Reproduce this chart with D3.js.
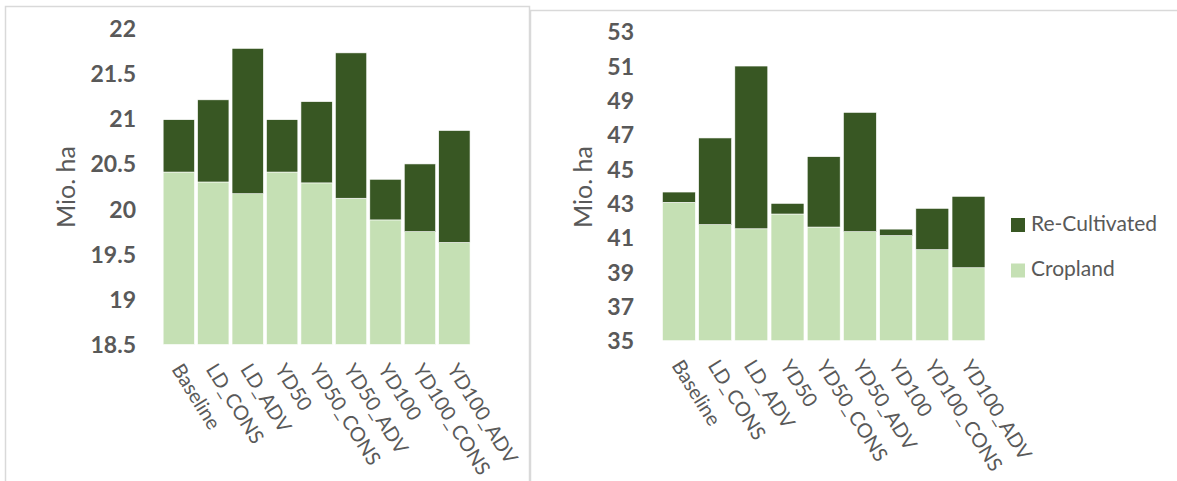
<!DOCTYPE html>
<html>
<head>
<meta charset="utf-8">
<script src="https://cdn.jsdelivr.net/npm/d3@7"></script>
<style>
  html, body { margin: 0; padding: 0; background: #fff; overflow: hidden; }
  svg { display: block; }
  text { font-family: Lato, "Open Sans", sans-serif; }
</style>
</head>
<body>
<svg id="chart" width="1177" height="481"></svg>
<script>
// ---- data ----
const categories = ["Baseline", "LD_CONS", "LD_ADV", "YD50", "YD50_CONS", "YD50_ADV", "YD100", "YD100_CONS", "YD100_ADV"];
const seriesNames = ["Cropland", "Re-Cultivated"];

const croplandLeft = [20.41, 20.30, 20.17, 20.41, 20.29, 20.12, 19.88, 19.75, 19.63];
const reCultivatedLeft = [0.58, 0.91, 1.61, 0.58, 0.90, 1.61, 0.45, 0.75, 1.24];

const croplandRight = [43.06, 41.76, 41.52, 42.38, 41.62, 41.35, 41.12, 40.30, 39.25];
const reCultivatedRight = [0.60, 5.05, 9.48, 0.62, 4.10, 6.95, 0.38, 2.41, 4.16];

const ticksLeft = [18.5, 19, 19.5, 20, 20.5, 21, 21.5, 22];
const ticksRight = [35, 37, 39, 41, 43, 45, 47, 49, 51, 53];

const axisTitle = "Mio. ha";

// ---- styles ----
const colors = { "Cropland": "#C5E0B4", "Re-Cultivated": "#385723" };
const textColor = "#595959";
const borderColor = "#d9d9d9";

const svg = d3.select("#chart");

// panel borders
svg.append("rect").attr("x", 5.5).attr("y", 6.5).attr("width", 524).attr("height", 520)
  .attr("fill", "none").attr("stroke", borderColor).attr("stroke-width", 1.5);
svg.append("rect").attr("x", 530.5).attr("y", 10.5).attr("width", 660).attr("height", 520)
  .attr("fill", "none").attr("stroke", borderColor).attr("stroke-width", 1.5);

function drawChart(cfg) {
  const rows = categories.map((c, i) => ({ cat: c, "Cropland": cfg.crop[i], "Re-Cultivated": cfg.recult[i] }));
  const stack = d3.stack().keys(seriesNames)(rows);

  const x = d3.scaleBand().domain(categories).range(cfg.xRange).paddingInner(0.09).paddingOuter(0.045);
  const y = d3.scaleLinear().domain([cfg.ticks[0], cfg.ticks[cfg.ticks.length - 1]]).range(cfg.yRange).clamp(true);

  const g = svg.append("g");

  g.selectAll("g.series").data(stack).join("g")
    .attr("class", "series")
    .attr("fill", d => colors[d.key])
    .selectAll("rect").data(d => d).join("rect")
    .attr("x", d => x(d.data.cat))
    .attr("width", x.bandwidth())
    .attr("y", d => y(d[1]))
    .attr("height", d => Math.max(0, y(d[0]) - y(d[1])))
    .attr("stroke", "#ffffff")
    .attr("stroke-width", 0.6);

  // y axis
  const yAxis = d3.axisLeft(y).tickValues(cfg.ticks).tickSize(0).tickPadding(0)
    .tickFormat(d => String(d));
  const ya = g.append("g").attr("transform", `translate(${cfg.yLabelX},0)`).call(yAxis);
  ya.select(".domain").remove();
  ya.selectAll("text")
    .attr("fill", textColor)
    .style("font-size", "23px")
    .style("font-weight", "bold")
    .attr("x", 0)
    .attr("dy", "0.35em");

  // x axis
  const xAxis = d3.axisBottom(x).tickSize(0).tickPadding(0);
  const xa = g.append("g").attr("transform", `translate(0,${cfg.yRange[0]})`).call(xAxis);
  xa.select(".domain").remove();
  xa.selectAll("text")
    .attr("fill", textColor)
    .style("font-size", "20px")
    .attr("text-anchor", "start")
    .attr("y", 0)
    .attr("dy", "0.35em")
    .attr("transform", "translate(-2,21) rotate(58)");

  // axis title
  g.append("text")
    .attr("transform", `translate(${cfg.titleX},187) rotate(-90)`)
    .attr("text-anchor", "middle")
    .attr("dy", "0.35em")
    .attr("fill", textColor)
    .style("font-size", "25px")
    .text(axisTitle);
}

drawChart({
  crop: croplandLeft, recult: reCultivatedLeft, ticks: ticksLeft,
  xRange: [161.6, 471.6], yRange: [344.5, 28.5], yLabelX: 136, titleX: 66
});
drawChart({
  crop: croplandRight, recult: reCultivatedRight, ticks: ticksRight,
  xRange: [660.8, 986.6], yRange: [340.7, 31.7], yLabelX: 634, titleX: 583
});

// legend
const legendItems = ["Re-Cultivated", "Cropland"];
const legendY = [225, 270.5];
const lg = svg.append("g");
legendItems.forEach((name, i) => {
  lg.append("rect").attr("x", 1011).attr("y", legendY[i] - 7).attr("width", 14).attr("height", 14)
    .attr("fill", colors[name]);
  lg.append("text").attr("x", 1031).attr("y", legendY[i] - 1.5).attr("dy", "0.35em")
    .attr("fill", textColor).style("font-size", "21px").text(name);
});
</script>
</body>
</html>
